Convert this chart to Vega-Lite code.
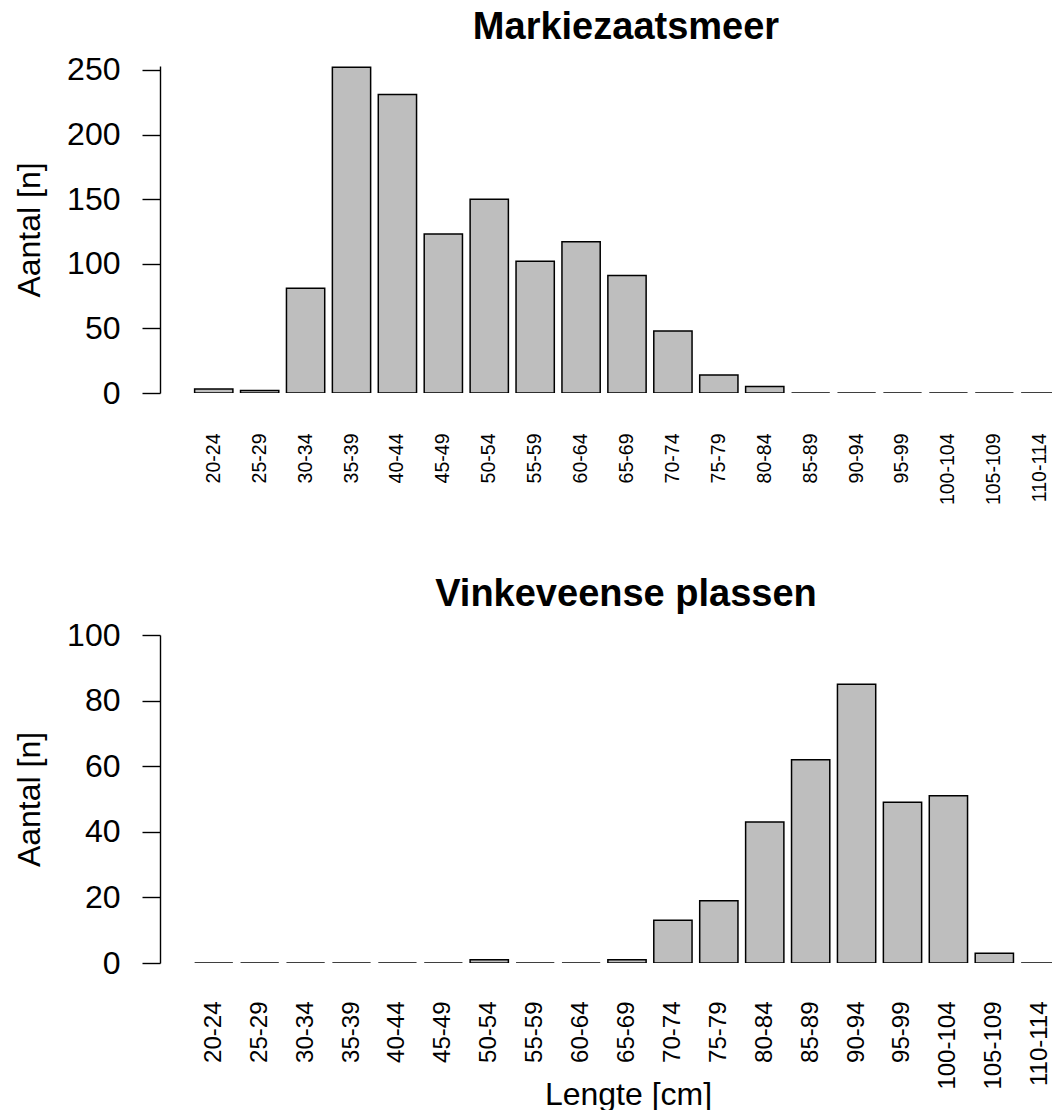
{
  "$schema": "https://vega.github.io/schema/vega-lite/v6.json",
  "background": "white",
  "padding": {"left": 13, "top": 8, "right": 0, "bottom": 0},
  "config": {
    "font": "Liberation Sans",
    "view": {"stroke": null},
    "concat": {"spacing": 71},
    "axisY": {
      "grid": false, "domainColor": "black", "domainWidth": 1.4, "tickColor": "black", "tickWidth": 1.4,
      "tickSize": 18, "labelPadding": 22, "labelFontSize": 32, "labelColor": "black", "labelFlush": false, "labelOverlap": false,
      "titleFontSize": 32, "titleFontWeight": "normal", "titleColor": "black", "titlePadding": 20
    },
    "axisX": {
      "grid": false, "domain": false, "ticks": false, "tickSize": 0, "labelAngle": -90, "labelColor": "black", "labelOverlap": false,
      "titleFontSize": 32, "titleFontWeight": "normal", "titleColor": "black"
    }
  },
  "datasets": {
    "mk": [
      {"klasse": "20-24", "aantal": 3},
      {"klasse": "25-29", "aantal": 2},
      {"klasse": "30-34", "aantal": 81},
      {"klasse": "35-39", "aantal": 252},
      {"klasse": "40-44", "aantal": 231},
      {"klasse": "45-49", "aantal": 123},
      {"klasse": "50-54", "aantal": 150},
      {"klasse": "55-59", "aantal": 102},
      {"klasse": "60-64", "aantal": 117},
      {"klasse": "65-69", "aantal": 91},
      {"klasse": "70-74", "aantal": 48},
      {"klasse": "75-79", "aantal": 14},
      {"klasse": "80-84", "aantal": 5},
      {"klasse": "85-89", "aantal": 0},
      {"klasse": "90-94", "aantal": 0},
      {"klasse": "95-99", "aantal": 0},
      {"klasse": "100-104", "aantal": 0},
      {"klasse": "105-109", "aantal": 0},
      {"klasse": "110-114", "aantal": 0}
    ],
    "vk": [
      {"klasse": "20-24", "aantal": 0},
      {"klasse": "25-29", "aantal": 0},
      {"klasse": "30-34", "aantal": 0},
      {"klasse": "35-39", "aantal": 0},
      {"klasse": "40-44", "aantal": 0},
      {"klasse": "45-49", "aantal": 0},
      {"klasse": "50-54", "aantal": 1},
      {"klasse": "55-59", "aantal": 0},
      {"klasse": "60-64", "aantal": 0},
      {"klasse": "65-69", "aantal": 1},
      {"klasse": "70-74", "aantal": 13},
      {"klasse": "75-79", "aantal": 19},
      {"klasse": "80-84", "aantal": 43},
      {"klasse": "85-89", "aantal": 62},
      {"klasse": "90-94", "aantal": 85},
      {"klasse": "95-99", "aantal": 49},
      {"klasse": "100-104", "aantal": 51},
      {"klasse": "105-109", "aantal": 3},
      {"klasse": "110-114", "aantal": 0}
    ]
  },
  "vconcat": [
    {
      "data": {"name": "mk"},
      "width": 893,
      "height": 327,
      "title": {"text": "Markiezaatsmeer", "fontSize": 38, "fontWeight": "bold", "color": "black", "baseline": "alphabetic", "offset": -23, "anchor": "middle", "dx": 19.5},
      "mark": {"type": "bar", "fill": "#bebebe", "stroke": "black", "strokeWidth": 1.5, "clip": true},
      "encoding": {
        "x": {
          "field": "klasse", "type": "ordinal", "sort": null,
          "scale": {"rangeMax": 934, "paddingInner": 0.1667, "paddingOuter": 0.754},
          "axis": {"title": null, "labelFontSize": 19.5, "labelPadding": 40}
        },
        "y": {
          "field": "aantal", "type": "quantitative",
          "scale": {"domain": [0, 253], "nice": false, "zero": true},
          "axis": {"title": "Aantal [n]", "values": [0, 50, 100, 150, 200, 250]}
        }
      }
    },
    {
      "data": {"name": "vk"},
      "width": 893,
      "height": 328,
      "title": {"text": "Vinkeveense plassen", "fontSize": 38, "fontWeight": "bold", "color": "black", "baseline": "alphabetic", "offset": -25, "anchor": "middle", "dx": 19.5},
      "mark": {"type": "bar", "fill": "#bebebe", "stroke": "black", "strokeWidth": 1.5, "clip": true},
      "encoding": {
        "x": {
          "field": "klasse", "type": "ordinal", "sort": null,
          "scale": {"rangeMax": 934, "paddingInner": 0.1667, "paddingOuter": 0.754},
          "axis": {"title": "Lengte [cm]", "labelFontSize": 24, "labelPadding": 38, "titleX": 468, "titleY": 116, "titleBaseline": "top"}
        },
        "y": {
          "field": "aantal", "type": "quantitative",
          "scale": {"domain": [0, 100], "nice": false},
          "axis": {"title": "Aantal [n]", "values": [0, 20, 40, 60, 80, 100]}
        }
      }
    }
  ]
}
